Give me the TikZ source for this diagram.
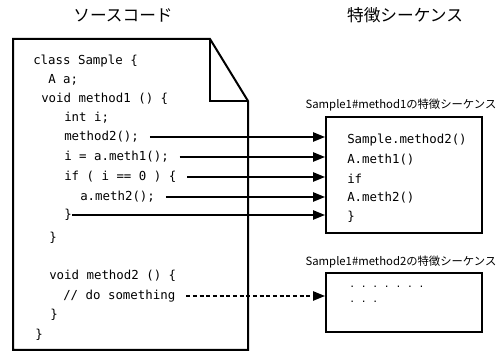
\documentclass[tikz,border=0pt]{standalone}
\usepackage{fontspec}
\setmainfont{Noto Sans CJK JP}
\setmonofont{DejaVu Sans Mono}
\usetikzlibrary{arrows.meta}
\tikzstyle{heading}=[font=\fontsize{12.5}{14}\selectfont]
\tikzstyle{code}=[anchor=west, inner sep=0pt, font=\ttfamily\fontsize{9.3}{11}\selectfont]
\tikzstyle{seqbox}=[draw, line width=1.5pt, minimum width=117pt]
\tikzstyle{seqlabel}=[font=\fontsize{8.5}{10}\selectfont]
\tikzstyle{link}=[line width=1.1pt, shorten <=8pt, -{Triangle[length=9pt,width=7pt]}]

\begin{document}
\begin{tikzpicture}[x=0.75pt,y=-0.75pt]
\useasboundingbox (0,0) rectangle (496,352);
% headings
\node[heading](src)at (123,15){ソースコード};
\node[heading](feat)at (405,15){特徴シーケンス};
% source file with folded corner
\draw[line width=1.5pt] (13,39) -- (210,39) -- (248,101) -- (248,350) -- (13,350) -- cycle;
\draw[line width=1.5pt] (210,39) -- (210,101) -- (248,101);
% code lines
\node[code](code1)at (33,61){class Sample \{};
\node[code](code2)at (48,80){A a;};
\node[code](code3)at (41,99){void method1 () \{};
\node[code](code4)at (64,118){int i;};
\node[code](code5)at (64,137){method2();};
\node[code](code6)at (64,157){i = a.meth1();};
\node[code](code7)at (64,177){if ( i == 0 ) \{};
\node[code](code8)at (80,197){a.meth2();};
\node[code](code9)at (64,215){\}};
\node[code](code10)at (49,238){\}};
\node[code](code11)at (49,276){void method2 () \{};
\node[code](code12)at (63,296){// do something};
\node[code](code13)at (50,315){\}};
\node[code](code14)at (35,335){\}};
% feature sequences
\node[seqlabel](label1)at (401,105){Sample1\#method1の特徴シーケンス};
\node[seqbox, minimum height=87pt](seq1)at (404,175){};
\node[code](item1)at (347,140){Sample.method2()};
\node[code](item2)at (347,160){A.meth1()};
\node[code](item3)at (347,179){if};
\node[code](item4)at (347,198){A.meth2()};
\node[code](item5)at (347,217){\}};
\node[seqlabel](label2)at (401,262){Sample1\#method2の特徴シーケンス};
\node[seqbox, minimum height=44.25pt](seq2)at (404,302.5){};
\node[code, font=\ttfamily\fontsize{7.2}{9}\selectfont](dots1)at (349,287){. . . . . . .};
\node[code, font=\ttfamily\fontsize{7.2}{9}\selectfont](dots2)at (349,302){. . .};
% links
\draw[link](code5.east) -- (code5 -| seq1.west);
\draw[link](code6.east) -- (code6 -| seq1.west);
\draw[link](code7.east) -- (code7 -| seq1.west);
\draw[link](code8.east) -- (code8 -| seq1.west);
\draw[link, shorten <=0pt](code9.east) -- (code9 -| seq1.west);
\draw[link, dash pattern=on 3pt off 2pt](code12.east) -- (code12 -| seq2.west);
\end{tikzpicture}
\end{document}
